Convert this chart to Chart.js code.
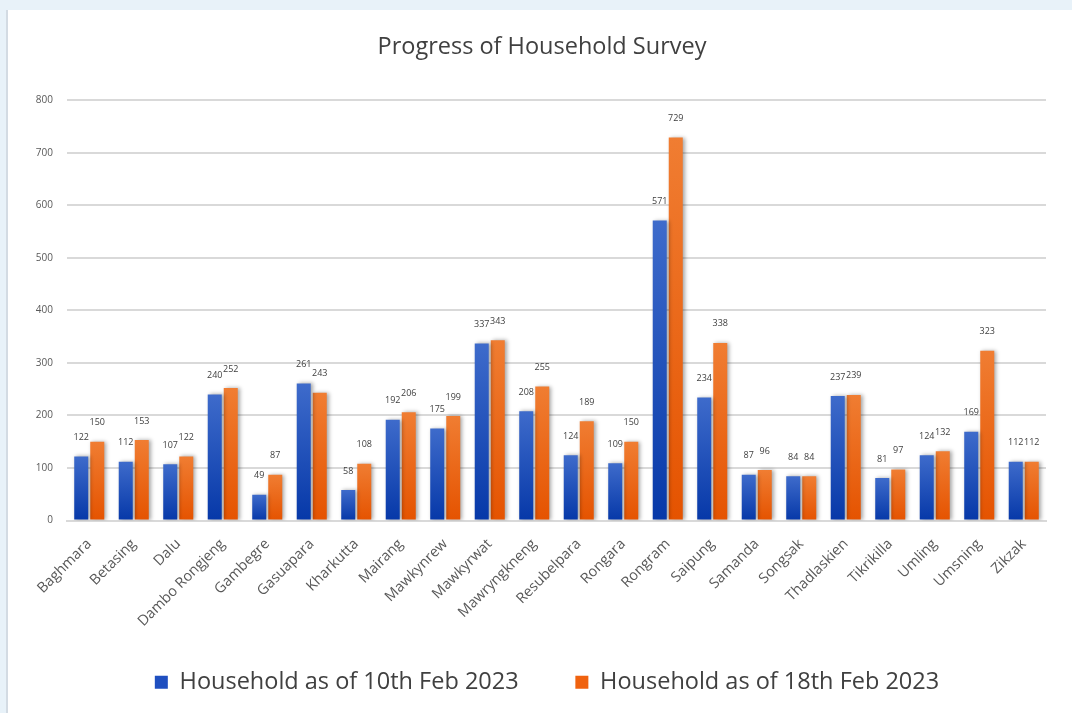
<!DOCTYPE html>
<html>
<head>
<meta charset="utf-8">
<script src="https://cdn.jsdelivr.net/npm/chart.js@4.4.1/dist/chart.umd.min.js"></script>
<style>
    html, body { margin: 0; padding: 0; background: #e8f2f9; }
    .card { position: absolute; left: 6px; top: 10px; width: 1066px; height: 703px; background: #fff; border-left: 2px solid #d3dbe3; }
    #chart { position: absolute; left: 0; top: 0; }
</style>
</head>
<body>
<div class="card"></div>
<canvas id="chart" width="1072" height="713"></canvas>
<script>
const districts = ["Baghmara", "Betasing", "Dalu", "Dambo Rongjeng", "Gambegre", "Gasuapara", "Kharkutta", "Mairang", "Mawkynrew", "Mawkyrwat", "Mawryngkneng", "Resubelpara", "Rongara", "Rongram", "Saipung", "Samanda", "Songsak", "Thadlaskien", "Tikrikilla", "Umling", "Umsning", "Zikzak"];
const feb10 = [122, 112, 107, 240, 49, 261, 58, 192, 175, 337, 208, 124, 109, 571, 234, 87, 84, 237, 81, 124, 169, 112];
const feb18 = [150, 153, 122, 252, 87, 243, 108, 206, 199, 343, 255, 189, 150, 729, 338, 96, 84, 239, 97, 132, 323, 112];
const seriesNames = ["Household as of 10th Feb 2023", "Household as of 18th Feb 2023"];
const yTicks = [0, 100, 200, 300, 400, 500, 600, 700, 800];

const FONT = '"Open Sans", "Noto Sans", sans-serif';

function barFill(top, bottom) {
    return function (c) {
        const chart = c.chart;
        if (!chart.chartArea || c.type !== 'data') return bottom;
        const y = chart.scales.y;
        const g = chart.ctx.createLinearGradient(0, y.getPixelForValue(c.raw), 0, y.getPixelForValue(0));
        g.addColorStop(0, top);
        g.addColorStop(1, bottom);
        return g;
    };
}

// soft shadow behind bars, then value labels above them
const barExtras = {
    id: 'barExtras',
    afterLayout(chart) {
        // title and legend sit a little right of the plot centre in the original
        chart.titleBlock.left += 9;
        chart.titleBlock.right += 9;
        chart.legend.left += 14;
        chart.legend.right += 14;
    },
    beforeDatasetsDraw(chart) {
        const ctx = chart.ctx;
        ctx.save();
        ctx.shadowColor = 'rgba(0,0,0,0.35)';
        ctx.shadowBlur = 4;
        ctx.shadowOffsetX = 2;
        ctx.shadowOffsetY = 0;
    },
    afterDatasetsDraw(chart) {
        const ctx = chart.ctx;
        ctx.restore();
        ctx.save();
        ctx.font = '9px ' + FONT;
        ctx.fillStyle = '#404040';
        ctx.textAlign = 'center';
        ctx.textBaseline = 'middle';
        chart.data.datasets.forEach((ds, i) => {
            chart.getDatasetMeta(i).data.forEach((bar, j) => {
                ctx.fillText(ds.data[j], bar.x, bar.y - 19);
            });
        });
        ctx.restore();
    }
};

const legendColors = ['#1f4fc0', '#f0620f'];

new Chart(document.getElementById('chart'), {
    type: 'bar',
    data: {
        labels: districts,
        datasets: [{
            label: seriesNames[0],
            data: feb10,
            backgroundColor: barFill('#3e6bcb', '#0638a8'),
            borderWidth: 0,
        }, {
            label: seriesNames[1],
            data: feb18,
            backgroundColor: barFill('#f07d32', '#e55300'),
            borderWidth: 0,
        }],
    },
    plugins: [barExtras],
    options: {
        responsive: false,
        animation: false,
        categoryPercentage: 0.72,
        barPercentage: 0.875,
        layout: { padding: { left: 20, right: 26, top: 10, bottom: 9 } },
        scales: {
            x: {
                grid: { display: false },
                border: { display: true, color: '#d9d9d9', width: 2 },
                ticks: {
                    maxRotation: 45,
                    minRotation: 45,
                    color: '#595959',
                    padding: 7,
                    font: { family: FONT, size: 14.5 },
                },
                afterFit(scale) { scale.height = 136; },
            },
            y: {
                min: 0,
                max: 800,
                afterBuildTicks(scale) { scale.ticks = yTicks.map(v => ({ value: v })); },
                grid: { color: '#d9d9d9', lineWidth: 2, drawTicks: false },
                border: { display: false },
                ticks: {
                    color: '#595959',
                    padding: 14,
                    font: { family: FONT, size: 10 },
                },
                afterFit(scale) { scale.width = 47; },
            },
        },
        plugins: {
            title: {
                display: true,
                text: 'Progress of Household Survey',
                color: '#404040',
                font: { family: FONT, size: 23.5, weight: 'normal' },
                padding: { top: 23, bottom: 39 },
            },
            legend: {
                position: 'bottom',
                labels: {
                    color: '#404040',
                    boxWidth: 13,
                    boxHeight: 13,
                    padding: 14,
                    font: { family: FONT, size: 23.5 },
                    generateLabels(chart) {
                        return chart.data.datasets.map((ds, i) => ({
                            text: i === 0 ? ds.label + '       ' : ds.label,
                            fillStyle: legendColors[i],
                            strokeStyle: legendColors[i],
                            lineWidth: 0,
                            fontColor: '#404040',
                            datasetIndex: i,
                        }));
                    },
                },
            },
            tooltip: { enabled: false },
        },
    },
});
</script>
</body>
</html>
